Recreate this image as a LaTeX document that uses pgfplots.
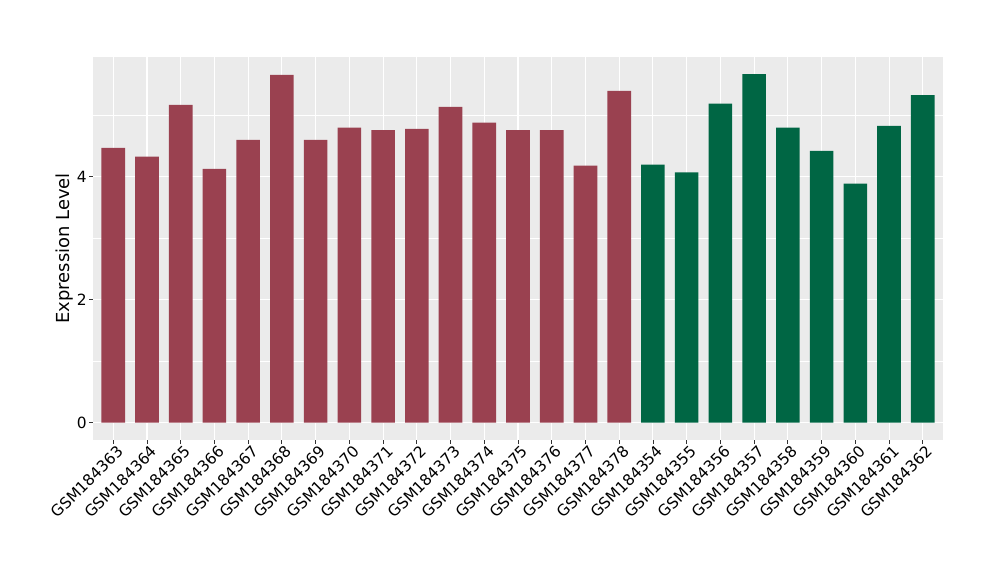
\documentclass[border=0pt]{standalone}
\usepackage{pgfplots}
\pgfplotsset{compat=1.18}
\usepackage{fontspec}
\setmainfont{DejaVu Sans}
\definecolor{panel}{HTML}{EBEBEB}
\definecolor{maroon}{HTML}{9A4150}
\definecolor{dgreen}{HTML}{006644}
\definecolor{tickc}{HTML}{333333}
\begin{document}
\begin{tikzpicture}[x=1bp,y=1bp]
\useasboundingbox (0,0) rectangle (1000,580);
\begin{axis}[
  at={(93bp,140bp)}, anchor=south west,
  scale only axis, width=850bp, height=383bp,
  xmin=-0.6, xmax=24.6, ymin=-0.2835, ymax=5.95,
  axis background/.style={fill=panel},
  axis line style={draw=none},
  xtick={0,...,24},
  xticklabels={GSM184363,GSM184364,GSM184365,GSM184366,GSM184367,GSM184368,GSM184369,GSM184370,GSM184371,GSM184372,GSM184373,GSM184374,GSM184375,GSM184376,GSM184377,GSM184378,GSM184354,GSM184355,GSM184356,GSM184357,GSM184358,GSM184359,GSM184360,GSM184361,GSM184362},
  ytick={0,2,4}, minor ytick={1,3,5},
  /pgf/number format/assume math mode=true,
  grid=both,
  major grid style={white, line width=1.1bp},
  minor grid style={white, line width=0.55bp},
  tick align=outside, tick pos=left,
  major tick length=4bp,
  every tick/.style={tickc, line width=0.8bp},
  minor tick length=0pt,
  tick label style={font=\fontsize{15.5}{17}\selectfont, black},
  x tick label style={rotate=45, anchor=north east, inner sep=1bp, xshift=3bp, yshift=-1bp},
  y tick label style={inner sep=2bp},
  ylabel={Expression Level},
  ylabel style={font=\fontsize{18}{20}\selectfont, at={(axis description cs:0,0.5)}, anchor=center, yshift=28bp},
  bar width=0.7, ybar, bar shift=0pt,
]
\addplot[fill=maroon, draw=none] coordinates {
(0,4.47) (1,4.33) (2,5.17) (3,4.13) (4,4.60) (5,5.66) (6,4.60) (7,4.80)
(8,4.76) (9,4.78) (10,5.14) (11,4.88) (12,4.76) (13,4.76) (14,4.18) (15,5.40)};
\addplot[fill=dgreen, draw=none] coordinates {
(16,4.20) (17,4.07) (18,5.19) (19,5.67) (20,4.80) (21,4.42) (22,3.89) (23,4.83) (24,5.33)};
\end{axis}
\end{tikzpicture}
\end{document}
